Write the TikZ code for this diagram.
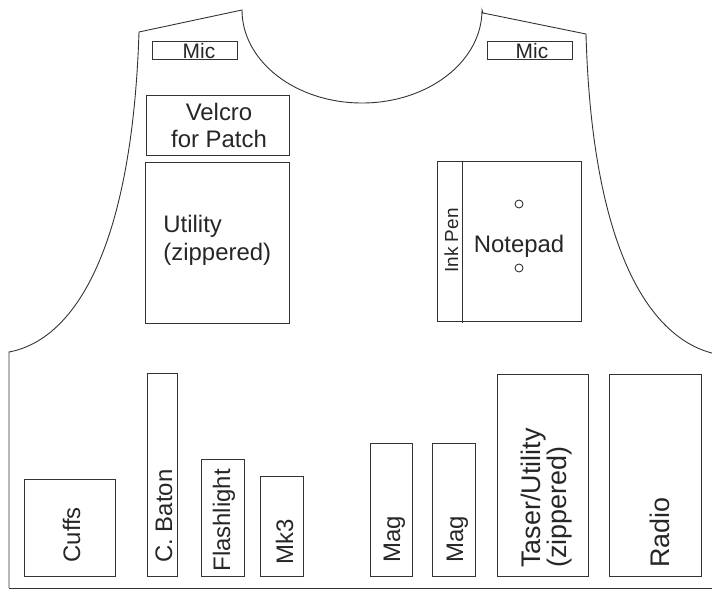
\documentclass[tikz,border=0pt]{standalone}
\usepackage{fontspec}
\setmainfont{Liberation Sans}

\begin{document}
\begin{tikzpicture}[x=1bp, y=-1bp, line width=0.9bp, draw=black!80,
  pocket/.style={draw=black!80, line width=1bp},
  lbl/.style={inner sep=0pt, text=black!85, font=\fontsize{24}{28}\selectfont},
  vlbl/.style={lbl, rotate=90, anchor=base west}]

\useasboundingbox (0,0) rectangle (712,590);
\clip (0,0) rectangle (712,590);

% Vest outline
\draw (9,588) -- (9,352) .. controls (74,340) and (132,250) .. (139,32) -- (242,10)
  arc[start angle=180, end angle=360, x radius=120bp, y radius=93bp]
  -- (483,13) -- (586,34) .. controls (592,250) and (650,340) .. (716,354);
\draw (9,588) -- (720,588);

% Shoulder mics
\draw[pocket] (152,42) rectangle (237,60);
\draw[pocket] (487,42) rectangle (572,60);
\node[lbl, font=\fontsize{21}{24}\selectfont, anchor=base] (micL) at (199,59) {Mic};
\node[lbl, font=\fontsize{21}{24}\selectfont, anchor=base] (micR) at (532,59) {Mic};

% Left chest
\draw[pocket] (146,96) rectangle (289,156);
\node[lbl, align=center, anchor=base] (velcro) at (219,148) {Velcro\\for Patch};
\draw[pocket] (145,163) rectangle (289,323);
\node[lbl, align=left, anchor=base west] (utility) at (163,260) {Utility\\(zippered)};

% Right chest
\draw[pocket] (437,162) rectangle (581,321);
\draw[pocket] (462,162) -- (462,323);
\node[vlbl, font=\fontsize{19}{22}\selectfont] (pen) at (458,273) {Ink Pen};
\node[lbl, anchor=base] (notepad) at (519,252) {Notepad};
\draw (519,204) circle[radius=4bp];
\draw (519,268) circle[radius=4bp];

% Lower pockets
\foreach \n/\xa/\ya/\xb/\bx/\by/\t in {cuffs/24/479/115/80/563/Cuffs,
    baton/147/373/177/172/563/C. Baton, flash/201/459/244/230/572/Flashlight,
    mk/260/476/303/293/565/Mk3, magA/370/443/412/400/563/Mag,
    magB/432/443/475/463/563/Mag} {
  \draw[pocket] (\xa,\ya) rectangle (\xb,576);
  \node[vlbl] (\n) at (\bx,\by) {\t};
}
\draw[pocket] (497,374) rectangle (588,576);
\node[vlbl, font=\fontsize{27}{26}\selectfont, align=left] (taser) at (566,568) {Taser/Utility\\(zippered)};
\draw[pocket] (609,374) rectangle (701,576);
\node[vlbl, font=\fontsize{27}{26}\selectfont] (radio) at (669,568) {Radio};

\end{tikzpicture}
\end{document}
